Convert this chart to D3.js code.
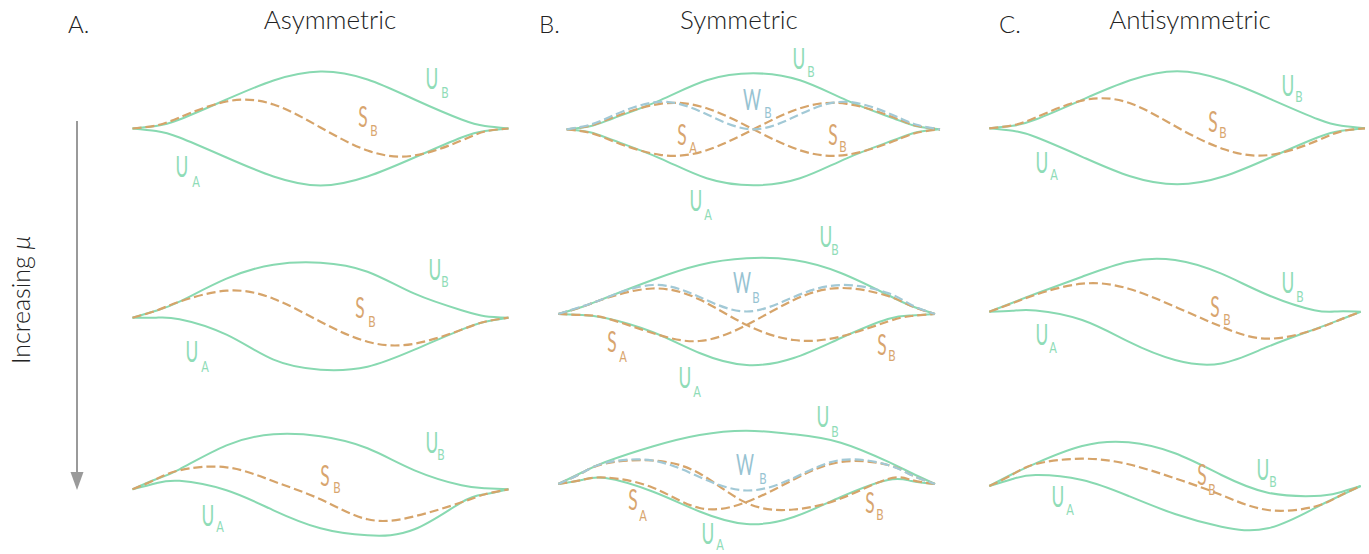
<!DOCTYPE html>
<html>
<head>
<meta charset="utf-8">
<script src="https://cdn.jsdelivr.net/npm/d3@7"></script>
<style>
  body { margin: 0; background: #fff; }
  svg { display: block; }
</style>
</head>
<body>
<svg id="chart" width="1369" height="554"></svg>
<script>
// Sample positions along each span (0 = left support, 1 = right support)
const span = [0, 0.0625, 0.125, 0.25, 0.375, 0.5, 0.625, 0.75, 0.875, 0.9375, 1];

const columnTitles = ["Asymmetric", "Symmetric", "Antisymmetric"];
const columnLetters = ["A.", "B.", "C."];
const axisLabel = "Increasing";
const axisSymbol = "\u03bc";

// Mode-shape deflections (px above the span line) at each sample position
// Asymmetric column, rows 1-3
const asym1UA = [0, -2.5, -9, -29, -48, -57, -48, -29, -9, -2.5, 0];
const asym1UB = [0, 2.5, 9, 29, 48, 57, 49, 29, 9, 2.5, 0];
const asym1SB = [0, 3, 11, 27, 24, 1, -22, -27, -12, -3, 0];

const asym2UA = [0, 0, -1.5, -17, -42, -52, -49, -32, -12, -4, 0];
const asym2UB = [0, 7, 16, 39, 53, 55, 46, 24, 7.5, 1.5, 0];
const asym2SB = [0, 7, 16, 27, 19, -4, -24, -26, -12, -4, 0];

const asym3UA = [0, 6, 8.5, -1, -21, -39, -46, -40, -13, -5, 0];
const asym3UB = [0, 10, 20, 44, 55, 53, 41, 19, 4, 1, 0];
const asym3SB = [0, 10, 19, 22, 8, -10, -30, -27, -13, -5, 0];

// Symmetric column, rows 1-3
const sym1UA = [0, -3, -11, -29, -49, -56, -49, -29, -11, -3, 0];
const sym1UB = [0, 3, 11, 29, 49, 56, 49, 29, 11, 3, 0];
const sym1SA = [0, -3.5, -12, -25.5, -21, 0, 21, 25.5, 12, 3.5, 0];
const sym1SB = [0, 3.5, 12, 25.5, 21, 0, -21, -25.5, -12, -3.5, 0];
const sym1WB = [0, 4.5, 14, 27.5, 15, 0, 15, 27.5, 14, 4.5, 0];

const sym2UA = [0, -1, -4, -18, -39, -51, -44, -24, -5, -1.5, 0];
const sym2UB = [0, 7, 16, 34, 49, 55.7, 54, 41, 19, 8, 0];
const sym2SA = [0, -1, -4, -19, -27, -11, 14, 26, 18, 8, 0];
const sym2SB = [0, 7, 15.5, 25.5, 14.5, -11, -26, -22.5, -7.5, -2, 0];
const sym2WB = [0, 7.5, 16, 29, 17, 2.5, 17, 29, 21, 9, 0];

const sym3UA = [0, 4, 6, -7.5, -27.5, -40, -33, -13, 4, 3, 0];
const sym3UB = [0, 11.5, 22, 37.5, 49, 53.3, 49.7, 41.3, 22.3, 11, 0];
const sym3SA = [0, 4, 6.5, -3.5, -24, -18, 4.5, 22, 19, 9, 0];
const sym3SB = [0, 11, 20.5, 23.5, 10.5, -19, -25.5, -14.5, 5, 4, 0];
const sym3WB = [0, 11, 21, 23.5, 7, -6.5, 6, 24, 19, 9, 0];

// Antisymmetric column, rows 1-3
const anti1UA = [0, -2.5, -9, -29, -48, -56, -48, -29, -9, -2.5, 0];
const anti1UB = [0, 2.5, 9, 29, 48, 57, 48, 29, 9, 2.5, 0];
const anti1SB = [0, 3, 11, 28, 25, 1, -21, -26.5, -12, -3, 0];

const anti2UA = [0, 1, 1.3, -8.3, -30, -48.3, -51.7, -35, -17.7, -9, 0];
const anti2UB = [0, 9, 18, 35, 50, 51.7, 38, 16.7, 1.5, 0.3, 0];
const anti2SB = [0, 8.5, 17, 28, 23, 5, -15, -27, -18, -9, 0];

const anti3UA = [0, 7, 11, 6, -10, -28, -40.7, -42.3, -22.3, -11, 0];
const anti3UB = [0, 12, 22.7, 40, 43.7, 32.7, 11, -6.7, -10, -7, 0];
const anti3SB = [0, 11.5, 22, 27.3, 21.7, 7.7, -9, -24, -20.7, -11, 0];

// ---------------------------------------------------------------
// Styling
const COLORS = {
  U: { stroke: "#88d9b1", label: "#8fdcb7" },
  S: { stroke: "#d6a46a", label: "#d8a56e" },
  W: { stroke: "#a2c9d6", label: "#97c3d2" }
};
const FONT = "Lato, 'Open Sans', sans-serif";

// Panel layout: span ends, baseline and label placement
const panels = [
  { x0: 132.5, x1: 508.5, base: 128.5,
    curves: [["U", asym1UA], ["U", asym1UB], ["S", asym1SB]],
    labels: [["U","B",432,79,445,93], ["S","B",363,117,374,131], ["U","A",182,167,196,182]] },
  { x0: 132.5, x1: 508.5, base: 317.7,
    curves: [["U", asym2UA], ["U", asym2UB], ["S", asym2SB]],
    labels: [["U","B",435,270,445,282], ["S","B",360,308,372,322], ["U","A",192,352,205,367]] },
  { x0: 132.5, x1: 508.5, base: 489.3,
    curves: [["U", asym3UA], ["U", asym3UB], ["S", asym3SB]],
    labels: [["U","B",432,443,441,455], ["S","B",325,476,337,488], ["U","A",208,516,220,527]] },

  { x0: 566.7, x1: 940, base: 129.3,
    curves: [["U", sym1UA], ["U", sym1UB], ["S", sym1SA], ["S", sym1SB], ["W", sym1WB]],
    labels: [["U","B",799,59,811,72], ["W","B",752,100,768,113], ["S","A",682,135,693,148],
             ["S","B",833,135,843,147], ["U","A",696,201,708,215]] },
  { x0: 558.3, x1: 935, base: 314,
    curves: [["U", sym2UA], ["U", sym2UB], ["S", sym2SA], ["S", sym2SB], ["W", sym2WB]],
    labels: [["U","B",826,237,835,250], ["W","B",742,283,756,298], ["S","A",612,342,623,357],
             ["S","B",882,345,892,356], ["U","A",685,378,697,392]] },
  { x0: 558.3, x1: 935, base: 484,
    curves: [["U", sym3UA], ["U", sym3UB], ["S", sym3SA], ["S", sym3SB], ["W", sym3WB]],
    labels: [["U","B",823,417,835,432], ["W","B",745,465,763,479], ["S","A",633,500,643,516],
             ["S","B",870,503,880,515], ["U","A",708,534,720,545]] },

  { x0: 989.3, x1: 1365, base: 128.3,
    curves: [["U", anti1UA], ["U", anti1UB], ["S", anti1SB]],
    labels: [["U","B",1288,86,1299,97], ["S","B",1213,122,1223,133], ["U","A",1042,163,1054,175]] },
  { x0: 989.3, x1: 1360.7, base: 311.7,
    curves: [["U", anti2UA], ["U", anti2UB], ["S", anti2SB]],
    labels: [["U","B",1288,283,1300,297], ["S","B",1215,307,1227,320], ["U","A",1042,335,1053,348]] },
  { x0: 989.3, x1: 1360.7, base: 486,
    curves: [["U", anti3UA], ["U", anti3UB], ["S", anti3SB]],
    labels: [["U","B",1263,470,1273,482], ["S","B",1202,475,1212,490], ["U","A",1058,497,1070,510]] }
];

const svg = d3.select("#chart");

// Column headings
const titleX = [330, 739, 1190];
const letterX = [68, 539, 999];
svg.selectAll("text.title").data(columnTitles).join("text")
  .attr("class", "title")
  .attr("x", (d, i) => titleX[i]).attr("y", 29)
  .attr("text-anchor", "middle")
  .attr("font-family", FONT).attr("font-weight", 300).attr("font-size", 26)
  .attr("fill", "#222").text(d => d);
svg.selectAll("text.letter").data(columnLetters).join("text")
  .attr("class", "letter")
  .attr("x", (d, i) => letterX[i]).attr("y", 33)
  .attr("font-family", FONT).attr("font-weight", 300).attr("font-size", 24)
  .attr("fill", "#222").text(d => d);

// Vertical "Increasing mu" arrow
svg.append("line")
  .attr("x1", 77).attr("x2", 77).attr("y1", 121).attr("y2", 476)
  .attr("stroke", "#9a9a9a").attr("stroke-width", 2);
svg.append("path")
  .attr("d", "M70.5,472 L83.5,472 L77,490 Z")
  .attr("fill", "#9a9a9a");
const axisText = svg.append("text")
  .attr("transform", "translate(30,300) rotate(-90)")
  .attr("text-anchor", "middle")
  .attr("font-family", FONT).attr("font-weight", 300).attr("font-size", 25)
  .attr("fill", "#222");
axisText.append("tspan").text(axisLabel + "  ");
axisText.append("tspan").attr("font-style", "italic").text(axisSymbol);

// Mode shapes
panels.forEach(p => {
  const x = d3.scaleLinear().domain([0, 1]).range([p.x0, p.x1]);
  const y = d3.scaleLinear().domain([-60, 60]).range([p.base + 60, p.base - 60]);
  const line = d3.line()
    .x(d => x(d[0])).y(d => y(d[1]))
    .curve(d3.curveNatural);
  const g = svg.append("g");
  const order = { U: 0, S: 1, W: 2 };
  p.curves.slice().sort((a, b) => order[a[0]] - order[b[0]]).forEach(([kind, vals]) => {
    g.append("path")
      .datum(span.map((t, i) => [t, vals[i]]))
      .attr("d", line)
      .attr("fill", "none")
      .attr("stroke", COLORS[kind].stroke)
      .attr("stroke-width", kind === "U" ? 2 : 2.2)
      .attr("stroke-dasharray", kind === "U" ? null : "9,4")
      .attr("stroke-linecap", "butt");
  });
  p.labels.forEach(([main, sub, mx, my, sx, sy]) => {
    g.append("text")
      .attr("transform", `translate(${mx},${my}) scale(0.62,1)`)
      .attr("text-anchor", "middle").attr("dy", "0.36em")
      .attr("font-family", FONT).attr("font-weight", 400).attr("font-size", 28)
      .attr("fill", COLORS[main].label).text(main);
    g.append("text")
      .attr("transform", `translate(${sx},${sy}) scale(0.75,1)`)
      .attr("text-anchor", "middle").attr("dy", "0.36em")
      .attr("font-family", FONT).attr("font-weight", 400).attr("font-size", 15)
      .attr("fill", COLORS[main].label).text(sub);
  });
});
</script>
</body>
</html>
